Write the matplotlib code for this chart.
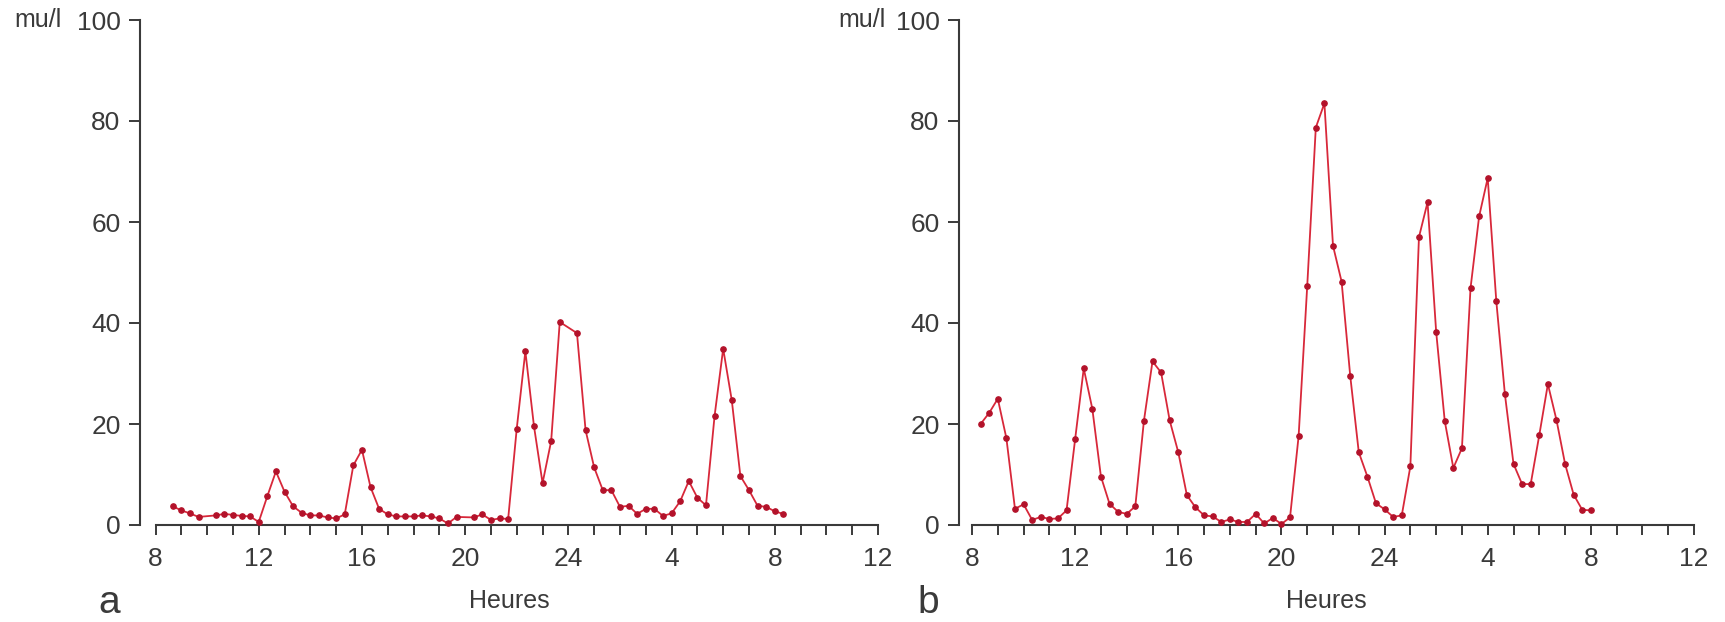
import matplotlib.pyplot as plt
from matplotlib.ticker import MultipleLocator

plt.rcParams['font.family'] = ['Liberation Sans', 'DejaVu Sans']

# sampling times (hours, next-day hours written as 24+h) and values in mu/l
times_a = ["8:40", "9:00", "9:20", "9:40", "10:20", "10:40", "11:00", "11:20", "11:40",
           "12:00", "12:20", "12:40", "13:00", "13:20", "13:40", "14:00", "14:20", "14:40",
           "15:00", "15:20", "15:40", "16:00", "16:20", "16:40", "17:00", "17:20", "17:40",
           "18:00", "18:20", "18:40", "19:00", "19:20", "19:40", "20:20", "20:40", "21:00",
           "21:20", "21:40", "22:00", "22:20", "22:40", "23:00", "23:20", "23:40", "24:20",
           "24:40", "25:00", "25:20", "25:40", "26:00", "26:20", "26:40", "27:00", "27:20",
           "27:40", "28:00", "28:20", "28:40", "29:00", "29:20", "29:40", "30:00", "30:20",
           "30:40", "31:00", "31:20", "31:40", "32:00", "32:20"]
vals_a = [3.7, 2.9, 2.3, 1.6, 1.9, 2.2, 2.0, 1.8, 1.7,
          0.6, 5.7, 10.6, 6.6, 3.7, 2.4, 1.9, 1.9, 1.5,
          1.3, 2.1, 11.8, 14.9, 7.5, 3.2, 2.1, 1.7, 1.7,
          1.7, 1.9, 1.7, 1.3, 0.3, 1.6, 1.5, 2.1, 1.0,
          1.3, 1.2, 19.1, 34.4, 19.6, 8.3, 16.6, 40.2, 38.0,
          18.8, 11.4, 6.9, 6.9, 3.6, 3.8, 2.2, 3.2, 3.2,
          1.8, 2.3, 4.7, 8.7, 5.4, 3.9, 21.6, 34.9, 24.7,
          9.7, 6.9, 3.8, 3.6, 2.7, 2.2]

times_b = ["8:20", "8:40", "9:00", "9:20", "9:40", "10:00", "10:20", "10:40", "11:00",
           "11:20", "11:40", "12:00", "12:20", "12:40", "13:00", "13:20", "13:40", "14:00",
           "14:20", "14:40", "15:00", "15:20", "15:40", "16:00", "16:20", "16:40", "17:00",
           "17:20", "17:40", "18:00", "18:20", "18:40", "19:00", "19:20", "19:40", "20:00",
           "20:20", "20:40", "21:00", "21:20", "21:40", "22:00", "22:20", "22:40", "23:00",
           "23:20", "23:40", "24:00", "24:20", "24:40", "25:00", "25:20", "25:40", "26:00",
           "26:20", "26:40", "27:00", "27:20", "27:40", "28:00", "28:20", "28:40", "29:00",
           "29:20", "29:40", "30:00", "30:20", "30:40", "31:00", "31:20", "31:40", "32:00"]
vals_b = [20.0, 22.2, 25.0, 17.2, 3.2, 4.1, 1.0, 1.6, 1.2,
          1.3, 2.9, 17.0, 31.0, 23.0, 9.6, 4.2, 2.6, 2.2,
          3.7, 20.6, 32.4, 30.2, 20.7, 14.4, 5.9, 3.5, 1.9,
          1.7, 0.6, 1.1, 0.6, 0.6, 2.2, 0.3, 1.4, 0.2,
          1.5, 17.6, 47.3, 78.7, 83.5, 55.3, 48.2, 29.6, 14.4,
          9.6, 4.3, 3.1, 1.6, 1.9, 11.6, 57.0, 63.9, 38.3,
          20.6, 11.3, 15.2, 46.9, 61.1, 68.7, 44.3, 25.9, 12.1,
          8.1, 8.1, 17.8, 27.9, 20.8, 12.1, 6.0, 3.0, 2.9]

xtick_pos = [8, 12, 16, 20, 24, 28, 32, 36]
xtick_labels = ["8", "12", "16", "20", "24", "4", "8", "12"]
ytick_pos = [0, 20, 40, 60, 80, 100]


def to_hours(lst):
    return [int(s.split(":")[0]) + int(s.split(":")[1]) / 60 for s in lst]


W, H = 1725, 622
fig = plt.figure(figsize=(W / 100, H / 100), dpi=100)

ink = "#3a3a3a"
line_col = "#d8283a"
dot_col = "#b3122a"


def panel(left_px, right_px, xstart_px, times, vals, letter, unit_x):
    ax = fig.add_axes([left_px / W, 97 / H, (right_px - left_px) / W, 505 / H])
    pxh = (right_px - xstart_px) / 28.0
    ax.set_xlim(8 - (xstart_px - left_px) / pxh, 36)
    ax.set_ylim(0, 100)
    ax.plot(to_hours(times), vals, color=line_col, lw=1.3, marker="o", ms=3.8,
            mfc=dot_col, mec=dot_col, clip_on=False, zorder=3)
    for s in ["top", "right"]:
        ax.spines[s].set_visible(False)
    ax.spines["left"].set_bounds(0, 100)
    ax.spines["bottom"].set_bounds(8, 36)
    for s in ["left", "bottom"]:
        ax.spines[s].set_color(ink)
        ax.spines[s].set_linewidth(1.5)
    ax.set_xticks(xtick_pos)
    ax.set_xticklabels(xtick_labels)
    ax.xaxis.set_minor_locator(MultipleLocator(1))
    ax.set_yticks(ytick_pos)
    ax.tick_params(axis="x", which="both", direction="out", length=7, width=1.4,
                   color=ink, labelsize=19, labelcolor=ink, pad=9)
    ax.tick_params(axis="y", direction="out", length=8, width=1.4,
                   color=ink, labelsize=19, labelcolor=ink, pad=6)
    ax.set_xlabel("Heures", fontsize=18, color=ink, labelpad=13)
    fig.text(unit_x / W, 1 - 20 / H, "mu/l", fontsize=18, color=ink,
             ha="left", va="center")
    fig.text((left_px - 42) / W, 1 - 603 / H, letter, fontsize=28, color=ink,
             ha="left", va="center")
    return ax


panel(140, 878, 155.5, times_a, vals_a, "a", 14)
panel(959, 1694, 972, times_b, vals_b, "b", 838)

fig.savefig("out.png", dpi=100, facecolor="white")
